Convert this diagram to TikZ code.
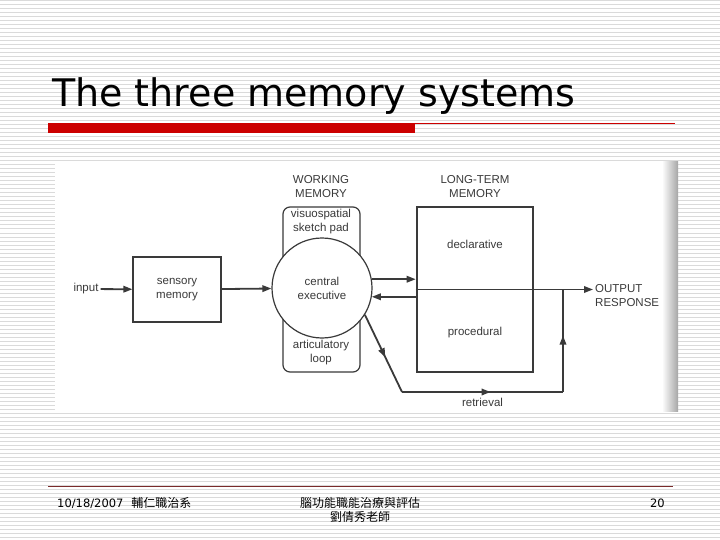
\documentclass[tikz,border=0pt]{standalone}
\usepackage{fontspec}
\setmainfont{Liberation Sans}
\newfontfamily\titlefont{DejaVu Sans}
\newfontfamily\cjkfont{Noto Sans CJK TC}
\usepackage{tikz}
\usetikzlibrary{arrows.meta,positioning,calc,decorations.markings}
\definecolor{inkgray}{HTML}{3A3A3A}
\definecolor{stripegray}{HTML}{DADADA}
\definecolor{titlered}{HTML}{CC0000}
\definecolor{footerred}{HTML}{7A2A2A}
\newcommand\memfont{\fontsize{11.5}{14}\selectfont}
\tikzset{
  memlabel/.style={align=center,font=\memfont,text=inkgray,inner sep=2pt},
  memorybox/.style={draw=inkgray,line width=1.2pt,align=center,font=\memfont,text=inkgray},
  wmbox/.style={draw=inkgray,line width=1.2pt,rounded corners=7pt},
  ltmbox/.style={draw=inkgray,line width=2.6pt},
  execcircle/.style={circle,draw=inkgray,line width=1.2pt,fill=white,minimum size=100pt,
    inner sep=0pt,align=center,font=\memfont,text=inkgray},
  flowarrow/.style={-{Triangle[length=9pt,width=6.5pt]},draw=inkgray,line width=1.8pt},
  retrievalline/.style={draw=inkgray,line width=1.8pt,postaction={decorate},
    decoration={markings,mark=at position 0.55 with {\arrow{Triangle[length=9pt,width=6.5pt]}}}},
  stripeline/.style={draw=stripegray,line width=1pt},
  titletext/.style={font=\titlefont\fontsize{38}{44}\selectfont,inner sep=0pt},
  footertext/.style={font=\titlefont\fontsize{11.5}{14}\selectfont,inner sep=0pt}
}
\begin{document}
\begin{tikzpicture}[x=1pt,y=-1pt]
  \useasboundingbox (0,0) rectangle (720,540);
  % slide background
  \fill[white] (0,0) rectangle (720,540);
  \foreach \y in {1,5,...,537}
    \draw[stripeline] (0,\y) -- (720,\y);
  \node[titletext,anchor=base west] (title) at (52,107) {The three memory systems};
  \fill[titlered] (48,123) rectangle (415,133);
  \draw[titlered,line width=0.8pt] (415,123.5) -- (675,123.5);
  % scanned figure
  \fill[white] (55,162) rectangle (678,411);
  \shade[left color=white,right color=black!35] (662,162) rectangle (678,411);
  \node[memlabel] (input) at (86,289) {input};
  \node[memorybox,minimum width=88pt,minimum height=65pt] (sensory) at (177,289.5) {sensory\\memory};
  \node[wmbox,minimum width=77pt,minimum height=165pt] (wm) at (321.5,289.5) {};
  \node[execcircle] (central) at (322,288) {central\\executive};
  \node[memlabel] (wmtitle) at (321,187) {WORKING\\MEMORY};
  \node[memlabel] (sketchpad) at (321,222) {visuospatial\\sketch pad};
  \node[memlabel] (loop) at (321,353) {articulatory\\loop};
  \node[ltmbox,minimum width=116pt,minimum height=165pt] (ltm) at (475,289.5) {};
  \node[memlabel] (ltmtitle) at (475,187) {LONG-TERM\\MEMORY};
  \node[memlabel] (declarative) at (475,244) {declarative};
  \node[memlabel] (procedural) at (475,333) {procedural};
  \node[memlabel,anchor=west,align=left] (output) at (593,296) {OUTPUT\\RESPONSE};
  \coordinate (bend) at (402,392);
  \coordinate (rise) at (563,392);
  \draw[flowarrow] (input) -- (sensory);
  \draw[flowarrow] (sensory) -- (central);
  \draw[flowarrow] (central.10) -- (central.10 -| ltm.west);
  \draw[flowarrow] (central.-10 -| ltm.west) -- (central.-10);
  \draw[flowarrow] (ltm.west) -- (output.west |- ltm.west);
  \draw[retrievalline] (central.-32) -- (bend);
  \draw[retrievalline] (bend) -- node[memlabel,below=3pt] (retrieval) {retrieval} (rise);
  \draw[retrievalline] (rise) -- (rise |- ltm.west);
  % footer
  \draw[footerred,line width=1pt] (48,486) -- (673,486);
  \node[footertext,anchor=base west] (date) at (57,507) {10/18/2007\hspace{8pt}{\cjkfont\fontsize{12}{14}\selectfont 輔仁職治系}};
  \node[footertext,font=\cjkfont\fontsize{12}{14}\selectfont,align=center] (course) at (360,510) {腦功能職能治療與評估\\劉倩秀老師};
  \node[footertext,anchor=base east] (page) at (665,507) {20};
\end{tikzpicture}
\end{document}
